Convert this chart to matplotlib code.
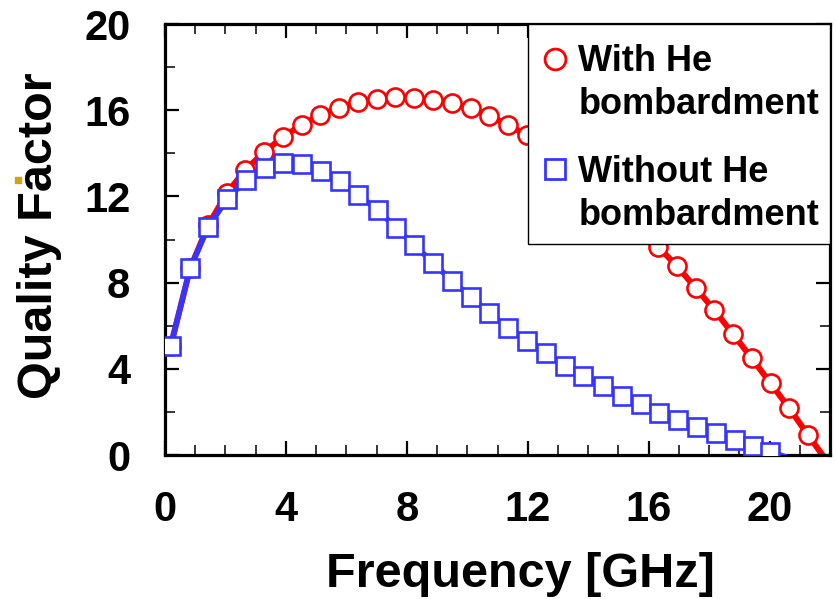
import numpy as np
import matplotlib.pyplot as plt
from matplotlib.lines import Line2D
from matplotlib.patches import Rectangle

plt.rcParams['font.family'] = ['Liberation Sans', 'DejaVu Sans']
plt.rcParams['font.weight'] = 'bold'

# data (GHz, quality factor)
freq_with = [0.19, 0.83, 1.43, 2.04, 2.65, 3.29, 3.91, 4.52, 5.13, 5.77,
             6.37, 7.00, 7.61, 8.25, 8.88, 9.50, 10.11, 10.73, 11.35, 11.96,
             12.58, 13.20, 13.82, 14.45, 15.06, 15.68, 16.31, 16.93, 17.55, 18.17,
             18.79, 19.41, 20.03, 20.65, 21.27]
q_with = [5.07, 8.66, 10.67, 12.14, 13.22, 14.07, 14.77, 15.31, 15.78, 16.12,
          16.37, 16.52, 16.60, 16.58, 16.47, 16.32, 16.09, 15.75, 15.31, 14.85,
          14.30, 13.70, 13.00, 12.30, 11.50, 10.60, 9.67, 8.77, 7.76, 6.73,
          5.61, 4.49, 3.33, 2.17, 0.93]

freq_without = [0.19, 0.83, 1.43, 2.06, 2.68, 3.31, 3.91, 4.52, 5.15, 5.79,
                6.39, 7.04, 7.64, 8.25, 8.88, 9.48, 10.11, 10.73, 11.36, 11.96,
                12.60, 13.23, 13.84, 14.48, 15.11, 15.74, 16.35, 16.98, 17.59, 18.23,
                18.86, 19.46, 20.01]
q_without = [5.07, 8.66, 10.59, 11.88, 12.76, 13.32, 13.56, 13.50, 13.19, 12.73,
             12.06, 11.37, 10.53, 9.74, 8.90, 8.09, 7.35, 6.58, 5.88, 5.30,
             4.72, 4.13, 3.67, 3.20, 2.75, 2.37, 1.96, 1.62, 1.28, 1.00,
             0.70, 0.43, 0.15]

# where the fitted lines run out past the last marker
line_end_with = (21.8, -0.1)
line_end_without = (21.0, -0.3)

label_with = 'With He\nbombardment'
label_without = 'Without He\nbombardment'

red = '#FF0000'
blue = '#3535FF'

fig = plt.figure(figsize=(8.36, 5.99), dpi=100)
ax = fig.add_axes([0.1974, 0.2404, 0.7955, 0.7195])

ax.plot(freq_with + [line_end_with[0]], q_with + [line_end_with[1]],
        color=red, lw=4.3, zorder=2, solid_capstyle='butt')
ax.plot(freq_with, q_with, ls='none', marker='o', ms=13, mfc='white',
        mec=red, mew=1.9, zorder=3)
ax.plot(freq_without + [line_end_without[0]], q_without + [line_end_without[1]],
        color=blue, lw=4.0, zorder=4, solid_capstyle='butt')
ax.plot(freq_without, q_without, ls='none', marker='s', ms=12.5, mfc='white',
        mec=blue, mew=1.9, zorder=5)

ax.set_xlim(0, 22)
ax.set_ylim(0, 20)
ax.set_xticks(np.arange(0, 21, 4))
ax.set_xticks(np.arange(0, 23, 1), minor=True)
ax.set_yticks(np.arange(0, 21, 4))
ax.set_yticks(np.arange(0, 21, 2), minor=True)

ax.tick_params(which='both', direction='in', top=True, right=True,
               labelsize=30, pad=25)
ax.tick_params(which='major', length=10, width=1.6)
ax.tick_params(which='minor', length=7, width=1.1)
for lab in ax.get_xticklabels() + ax.get_yticklabels():
    lab.set_fontweight('bold')

for sp in ax.spines.values():
    sp.set_linewidth(2.3)

ax.set_xlabel('Frequency [GHz]', fontsize=35, fontweight='bold')
ax.xaxis.set_label_coords(0.534, -0.225)
ax.set_ylabel('Quality Factor', fontsize=35, fontweight='bold')
ax.yaxis.set_label_coords(-0.155, 0.51)

handles = [
    Line2D([], [], ls='none', marker='o', ms=15, mfc='white', mec=red, mew=2.0),
    Line2D([], [], ls='none', marker='s', ms=14, mfc='white', mec=blue, mew=2.0),
]
# blank tiny title only adds a bit of room above the first entry
leg = ax.legend(handles, [label_with, label_without], loc='upper right',
                bbox_to_anchor=(1.0, 1.0), borderaxespad=0, frameon=True,
                fancybox=False, framealpha=1, edgecolor='black',
                prop={'size': 26, 'weight': 'bold'}, handlelength=0.9,
                handleheight=1.1, handletextpad=0.2, labelspacing=0.9,
                borderpad=0.3, title=' ', title_fontsize=4)
leg.get_frame().set_linewidth(1.0)
leg.set_zorder(10)
leg._legend_box.sep = 3
for t in leg.get_texts():
    t.set_linespacing(1.3)
# put each marker level with the first line of its label
for col in leg._legend_handle_box.get_children():
    for item in col.get_children():
        item.align = 'top'

# small stray mark next to the y label
fig.patches.append(Rectangle((15 / 836, 1 - 183 / 599), 6 / 836, 6 / 599,
                             transform=fig.transFigure, color='#D4A017'))

fig.savefig('out.png', dpi=100)
